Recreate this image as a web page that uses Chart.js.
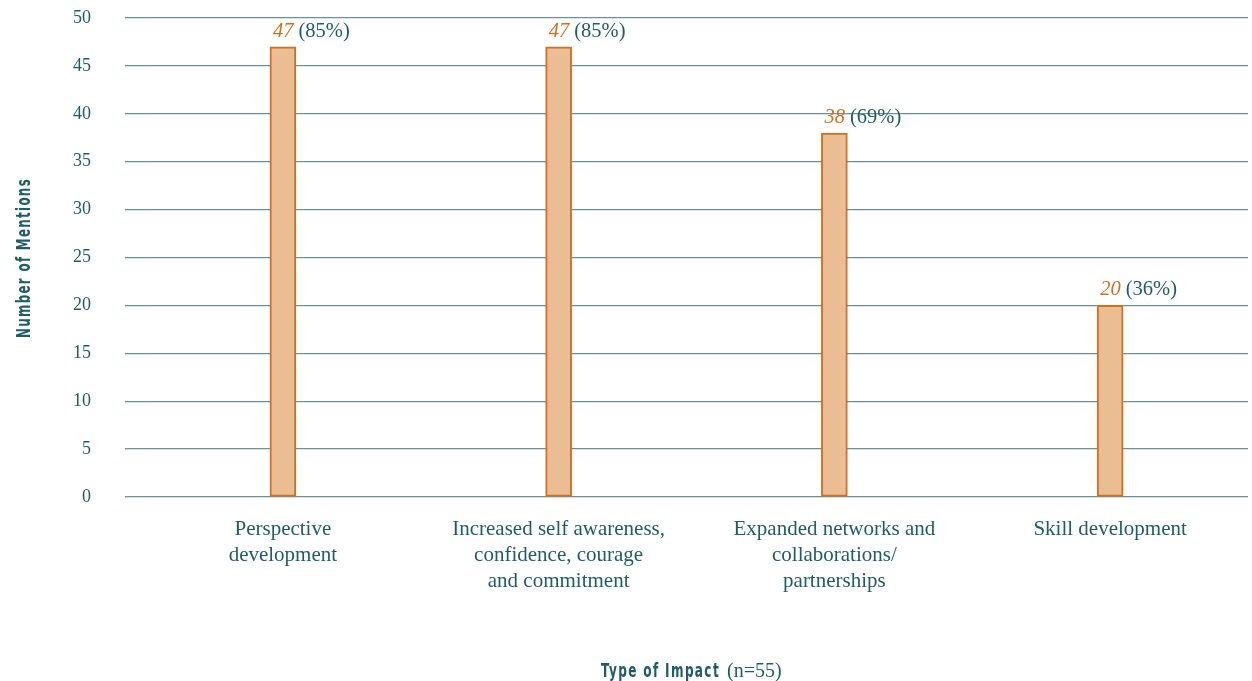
<!DOCTYPE html>
<html><head><meta charset="utf-8">
<script src="https://cdn.jsdelivr.net/npm/chart.js@4"></script>
<style>html,body{margin:0;padding:0;background:#fff}#wrap{width:1252px;height:681px}</style>
</head><body><div id="wrap"><canvas id="c" width="1252" height="681"></canvas></div>
<script>
const categories = [["Perspective","development"],["Increased self awareness,","confidence, courage","and commitment"],["Expanded networks and","collaborations/","partnerships"],["Skill development"]];
const mentions = [47, 47, 38, 20];
const percents = ["85%", "85%", "69%", "36%"];
const yTicks = [0, 5, 10, 15, 20, 25, 30, 35, 40, 45, 50];

const TEAL = '#1f5d66';
const GRID = '#6a9399';
const ORANGE = '#d3701f';
const SERIF = '"Liberation Serif", "DejaVu Serif", serif';
const COND = '"DejaVu Sans Condensed", "DejaVu Sans", sans-serif';

function condText(ctx, text, x, y, size, targetW) {
  ctx.save();
  ctx.font = 'bold ' + size + 'px ' + COND;
  try { ctx.letterSpacing = '2px'; } catch(e) {}
  const w = ctx.measureText(text).width;
  const s = targetW / w;
  ctx.translate(x, y);
  ctx.scale(s, 1);
  ctx.textAlign = 'left';
  ctx.fillText(text, 0, 0);
  ctx.restore();
}

const labelPlugin = {
  id: 'labels',
  afterDatasetsDraw(chart) {
    const ctx = chart.ctx;
    const meta = chart.getDatasetMeta(0);
    ctx.save();
    ctx.textBaseline = 'alphabetic';
    ctx.textAlign = 'left';
    meta.data.forEach((bar, i) => {
      const x0 = bar.x - 10;
      const y = bar.y - 10;
      ctx.font = 'italic 20.5px ' + SERIF;
      ctx.fillStyle = ORANGE;
      const t1 = String(mentions[i]);
      ctx.fillText(t1, x0, y);
      const w = ctx.measureText(t1 + ' ').width;
      ctx.font = '20.5px ' + SERIF;
      ctx.fillStyle = TEAL;
      ctx.fillText('(' + percents[i] + ')', x0 + w, y);
    });
    ctx.restore();
  },
  afterDraw(chart) {
    const ctx = chart.ctx;
    ctx.save();
    ctx.fillStyle = TEAL;
    ctx.textBaseline = 'alphabetic';
    condText(ctx, 'Type of Impact', 601, 677, 20, 119);
    ctx.font = '20px ' + SERIF;
    ctx.textAlign = 'left';
    ctx.fillText('(n=55)', 727, 677);
    ctx.translate(30, 338);
    ctx.rotate(-Math.PI / 2);
    condText(ctx, 'Number of Mentions', 0, 0, 20, 160);
    ctx.restore();
  }
};

new Chart(document.getElementById('c'), {
  type: 'bar',
  data: {
    labels: categories,
    datasets: [{
      data: mentions,
      backgroundColor: '#ebbd93',
      borderColor: ORANGE,
      borderWidth: 2,
      borderSkipped: false,
      barThickness: 26
    }]
  },
  options: {
    responsive: false,
    animation: false,
    layout: { padding: { left: 0, right: 4, top: 0, bottom: 64 } },
    plugins: { legend: { display: false }, tooltip: { enabled: false } },
    scales: {
      x: {
        grid: { display: false },
        border: { display: false },
        ticks: { color: TEAL, font: { family: SERIF, size: 21, lineHeight: 1.24 }, padding: 11, maxRotation: 0, autoSkip: false },
        afterFit(scale) { scale.height = 120; scale.paddingLeft = 0; scale.paddingRight = 0; }
      },
      y: {
        min: 0, max: 50,
        afterBuildTicks(scale) { scale.ticks = yTicks.map(v => ({ value: v })); },
        grid: { color: GRID, lineWidth: 1.3, drawTicks: true, tickLength: 20 },
        border: { display: false },
        ticks: { color: TEAL, font: { family: SERIF, size: 18 }, padding: 34 },
        afterFit(scale) { scale.width = 145; scale.paddingTop = 18; scale.paddingBottom = 0; }
      }
    }
  },
  plugins: [labelPlugin]
});
</script></body></html>
